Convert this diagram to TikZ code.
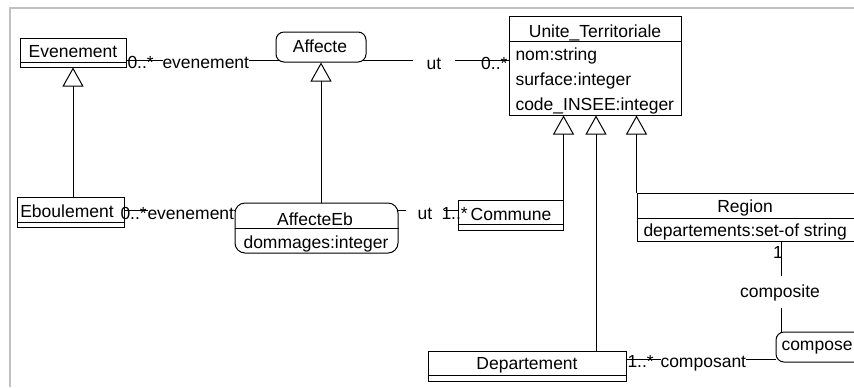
\documentclass[tikz,border=0pt]{standalone}
\usepackage{fontspec}
\setmainfont{Liberation Sans}
\usetikzlibrary{fit,arrows.meta,backgrounds}
\definecolor{framegray}{HTML}{C0C0C0}
\begin{document}
\begin{tikzpicture}[x=0.5pt,y=-0.5pt, line width=0.5pt,
  font=\fontsize{8.75}{10}\selectfont,
  cls/.style={draw, fill=white, inner sep=0pt},
  rcls/.style={cls, rounded corners=4pt},
  txt/.style={inner sep=0pt, anchor=base},
  lbl/.style={txt, anchor=base west},
  role/.style={lbl, fill=white},
  gen/.style={-{Triangle[open,length=9.5pt,width=10.5pt]}}]
\useasboundingbox (0,0) rectangle (854,387);
\draw[framegray, line width=1pt] (10,387) -- (10,8) -- (854,8);

% classes
\node[cls, fit={(20,38) (126,67)}] (Evenement) {};
\draw (Evenement.west |- 0,62) -- (Evenement.east |- 0,62);
\node[txt] (EvenementT) at (73,57) {Evenement};

\node[cls, fit={(17,197) (124,227)}] (Eboulement) {};
\draw (Eboulement.west |- 0,222) -- (Eboulement.east |- 0,222);
\node[txt] (EboulementT) at (67,217) {Eboulement};

\node[cls, fit={(509,16) (681,115)}] (Unite) {};
\draw (Unite.west |- 0,41) -- (Unite.east |- 0,41);
\node[txt] (UniteT) at (595,37) {Unite\_Territoriale};
\node[lbl] (UniteA1) at (515,60) {nom:string};
\node[lbl] (UniteA2) at (515,85) {surface:integer};
\node[lbl] (UniteA3) at (515,110) {code\_INSEE:integer};

\node[cls, fit={(458,200) (563,230)}] (Commune) {};
\draw (Commune.west |- 0,224) -- (Commune.east |- 0,224);
\node[txt] (CommuneT) at (511,220) {Commune};

\node[cls, fit={(637,193) (860,241)}] (Region) {};
\draw (Region.west |- 0,218) -- (Region.east |- 0,218);
\node[txt] (RegionT) at (745,212) {Region};
\node[lbl] (RegionA1) at (643,236) {departements:set-of string};

\node[cls, fit={(428,351) (626,381)}] (Departement) {};
\draw (Departement.west |- 0,375) -- (Departement.east |- 0,375);
\node[txt] (DepartementT) at (527,369) {Departement};

% association classes
\node[rcls, fit={(276,32) (366,62)}] (Affecte) {};
\node[txt] (AffecteT) at (320,52) {Affecte};

\node[rcls, rounded corners=5pt, fit={(235,203) (398,253)}] (AffecteEb) {};
\draw (AffecteEb.west |- 0,228) -- (AffecteEb.east |- 0,228);
\node[txt] (AffecteEbT) at (315,225) {AffecteEb};
\node[txt] (AffecteEbA1) at (316,248) {dommages:integer};

\node[rcls, fit={(776,332) (864,362)}] (compose) {};
\node[lbl] (composeT) at (781,350) {compose};

% connectors
\begin{scope}[on background layer]
\draw (Evenement.east |- 0,60) -- (Unite.west |- 0,60);
\draw (Eboulement.east |- 0,210) -- (Commune.west |- 0,210);
\draw (Departement.east |- 0,359) -- (compose.west |- 0,359);
\draw (Region.south -| 781,0) -- (compose.north -| 781,0);
\end{scope}

% generalizations
\draw[gen] (Eboulement.north -| 73,0) -- (Evenement.south -| 73,0);
\draw[gen] (AffecteEb.north -| 321,0) -- (Affecte.south -| 321,0);
\draw[gen] (Commune.north east) -- (Commune.north east |- Unite.south);
\draw[gen] (Departement.north -| 596,0) -- (Unite.south -| 596,0);
\draw[gen] (Region.north west) -- (Region.north west |- Unite.south);

% labels
\node[lbl] (m1) at (127,68) {0..*};
\node[role] (r1) at (162,68) {evenement};
\node[txt, fill=white, minimum width=21pt] (r2) at (434,69) {ut};
\node[txt, anchor=base east] (m2) at (508,69) {0..*};

\node[lbl] (m3) at (120,219) {0..*};
\node[role] (r3) at (147,219) {evenement};
\node[txt, fill=white, minimum width=19pt] (r4) at (425,219) {ut};
\node[lbl] (m4) at (441,219) {1..*};

\node[txt] (m5) at (778,258) {1};
\node[txt, fill=white, minimum height=16pt] (r5) at (780,297) {composite};
\node[lbl] (m6) at (627,367) {1..*};
\node[role] (r6) at (660,367) {composant};
\end{tikzpicture}
\end{document}
